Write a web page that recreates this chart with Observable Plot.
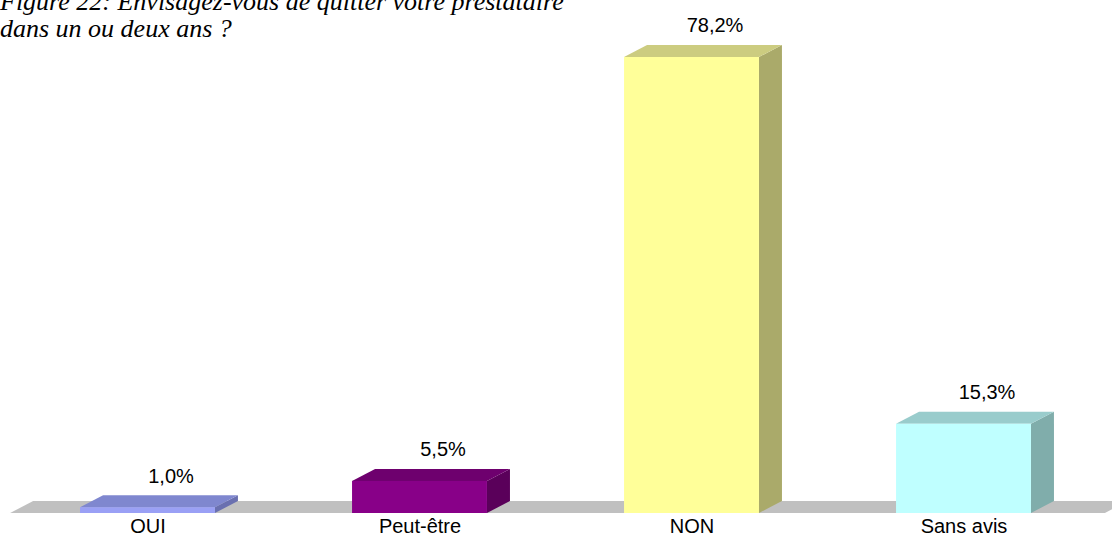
<!DOCTYPE html>
<html>
<head>
<meta charset="utf-8">
<script src="https://cdn.jsdelivr.net/npm/d3@7"></script>
<script src="https://cdn.jsdelivr.net/npm/@observablehq/plot@0.6"></script>
<style>
  html, body { margin: 0; padding: 0; background: #fff; }
  #wrap { position: relative; width: 1112px; height: 536px; overflow: hidden; }
  #title { position: absolute; left: 0px; top: -12px; font-family: "Liberation Serif", "Times New Roman", serif; font-style: italic; font-size: 26px; line-height: 27px; color: #000; white-space: nowrap; }
  svg { display: block; }
</style>
</head>
<body>
<div id="wrap">
  <div id="chart"></div>
  <div id="title">Figure 22: Envisagez-vous de quitter votre prestataire<br>dans un ou deux ans ?</div>
</div>
<script>
// Data
const categories = ["OUI", "Peut-être", "NON", "Sans avis"];
const values = [1.0, 5.5, 78.2, 15.3];
const valueLabels = ["1,0%", "5,5%", "78,2%", "15,3%"];
const frontColors = ["#9AA0F5", "#880088", "#FFFF99", "#BFFFFF"];
const topColors = ["#7F87CF", "#6E006E", "#CCCC80", "#99CCCC"];
const sideColors = ["#6A70B0", "#5A005A", "#AAAA6A", "#80ADAB"];

// 3D geometry (in scale units)
const halfW = 0.248;      // half bar width, in category steps
const depthX = 0.0846;    // depth offset along x, in category steps
const depthY = 2.06;      // depth offset along y, in percent units
const floorX1 = -0.505, floorX2 = 3.52;

const bars = categories.map((c, i) => ({i, c, v: values[i], label: valueLabels[i],
  front: frontColors[i], top: topColors[i], side: sideColors[i]}));

const topPts = bars.flatMap(b => [
  {z: b.i, y: b.v, x1: b.i - halfW, x2: b.i + halfW, fill: b.top},
  {z: b.i, y: b.v + depthY, x1: b.i - halfW + depthX, x2: b.i + halfW + depthX, fill: b.top}
]);
const sidePts = bars.flatMap(b => [
  {z: b.i, x: b.i + halfW, y1: 0, y2: b.v, fill: b.side},
  {z: b.i, x: b.i + halfW + depthX, y1: depthY, y2: b.v + depthY, fill: b.side}
]);
const floorPts = [
  {y: 0, x1: floorX1, x2: floorX2},
  {y: depthY, x1: floorX1 + depthX, x2: floorX2 + depthX}
];

const chart = Plot.plot({
  width: 1112,
  height: 536,
  marginTop: 57,
  marginBottom: 23,
  marginLeft: 0,
  marginRight: 0,
  style: {fontFamily: "'Liberation Sans', Arial, sans-serif", fontSize: "20px", color: "#000", background: "#fff"},
  x: {domain: [0, 3], range: [147.5, 963.5], axis: null},
  y: {domain: [0, 78.2], axis: null},
  color: {type: "identity"},
  marks: [
    Plot.areaX(floorPts, {y: "y", x1: "x1", x2: "x2", fill: "#C0C0C0"}),
    Plot.areaY(sidePts, {x: "x", y1: "y1", y2: "y2", z: "z", fill: "fill"}),
    Plot.areaX(topPts, {y: "y", x1: "x1", x2: "x2", z: "z", fill: "fill"}),
    Plot.rect(bars, {x1: d => d.i - halfW, x2: d => d.i + halfW, y1: 0, y2: "v", fill: "front"}),
    Plot.text(bars, {x: d => d.i + depthX, y: d => d.v + depthY, text: "label", lineAnchor: "bottom", dy: -13, fontSize: 20, fill: "#000"}),
    Plot.text(bars, {x: "i", y: 0, text: "c", lineAnchor: "bottom", dy: 19, fontSize: 20, fill: "#000"})
  ]
});
document.getElementById("chart").appendChild(chart);
</script>
</body>
</html>
